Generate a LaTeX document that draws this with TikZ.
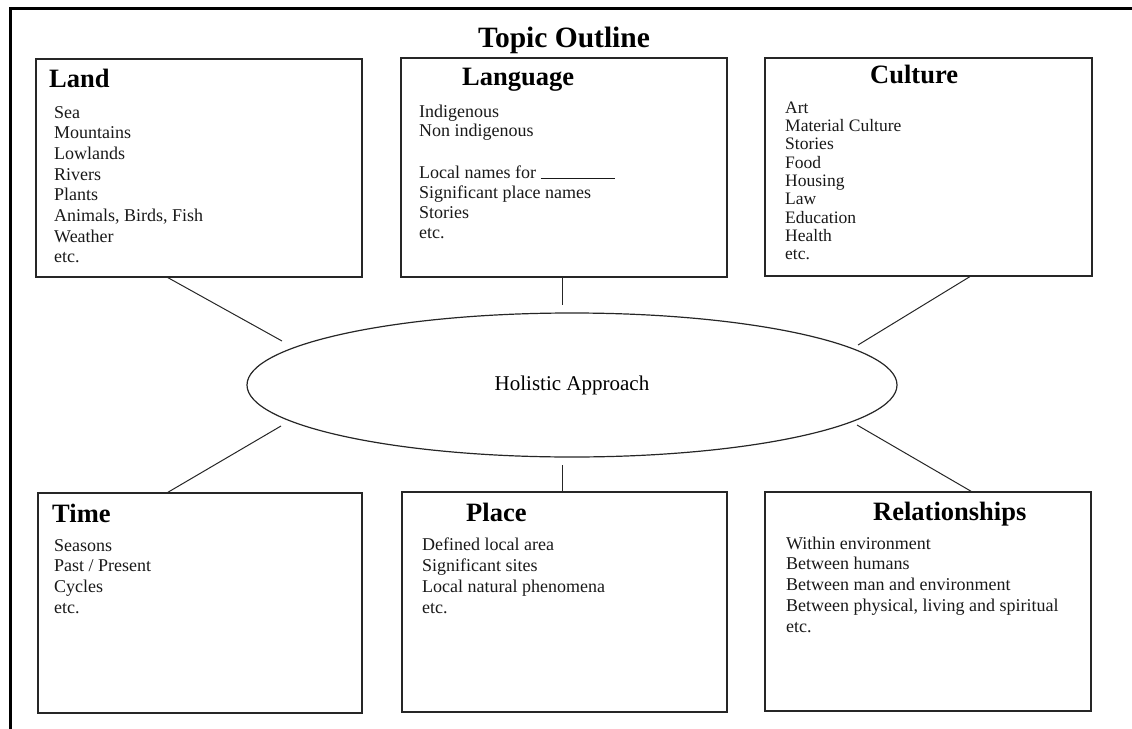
\documentclass[tikz,border=0pt]{standalone}
\usepackage{fontspec}
\setmainfont{Liberation Serif}
\usetikzlibrary{shapes.geometric,calc}
\begin{document}
\begin{tikzpicture}[x=1pt,y=-1pt,
  topicbox/.style={draw=black!85,line width=1.3pt,minimum width=#1,inner sep=0pt},
  hdr/.style={font=\fontsize{26.5}{30}\selectfont\bfseries,anchor=base west,inner sep=0pt},
  item/.style={font=\fontsize{18}{20}\selectfont,anchor=base west,inner sep=0pt,text=black!90},
  citem/.style={font=\fontsize{17.5}{19}\selectfont,anchor=base west,inner sep=0pt,text=black!90},
  link/.style={line width=1pt,black!85},
  frame/.style={line width=3pt,black}]
\useasboundingbox (0,0) rectangle (1132,728);
% outer frame
\draw[frame] (10,740) -- (10,8) -- (1140,8);
% title
\node[font=\fontsize{29.5}{32}\selectfont\bfseries,anchor=base,inner sep=0pt] (title) at (564,47) {Topic Outline};
% boxes
\node[topicbox=326pt,minimum height=218pt] (land) at (199,168) {};
\node[topicbox=326pt,minimum height=219pt] (lang) at (564,167.5) {};
\node[topicbox=327pt,minimum height=218pt] (cult) at (928.5,167) {};
\node[topicbox=324pt,minimum height=220pt] (time) at (200,603) {};
\node[topicbox=325pt,minimum height=220pt] (place) at (564.5,602) {};
\node[topicbox=326pt,minimum height=219pt] (rel) at (928,601.5) {};
% ellipse
\node[draw=black!85,line width=1.2pt,ellipse,minimum width=650pt,minimum height=144pt,inner sep=0pt,
      font=\fontsize{21}{23}\selectfont] (hol) at (572,385) {Holistic Approach};
% headers
\node[hdr] (landh) at (49,87) {Land};
\node[hdr] (langh) at (462,85) {Language};
\node[hdr] (culth) at (870,83) {Culture};
\node[hdr] (timeh) at (52,522) {Time};
\node[hdr] (placeh) at (466,521) {Place};
\node[hdr] (relh) at (873,520) {Relationships};
% body items
\foreach \t [count=\i] in {Sea,Mountains,Lowlands,Rivers,Plants,{Animals, Birds, Fish},Weather,etc.}
  \node[item] (land\i) at (54,{118+(\i-1)*20.7}) {\t};
\foreach \t/\yy [count=\i] in {Indigenous/117,Non indigenous/136.5,Local names for \rule[-1pt]{74pt}{0.8pt}/178,Significant place names/198,Stories/218,etc./238}
  \node[item] (lang\i) at (419,\yy) {\t};
\foreach \t [count=\i] in {Art,Material Culture,Stories,Food,Housing,Law,Education,Health,etc.}
  \node[citem] (cult\i) at (785,{113+(\i-1)*18.35}) {\t};
\foreach \t [count=\i] in {Seasons,Past / Present,Cycles,etc.}
  \node[item] (time\i) at (54,{551+(\i-1)*20.7}) {\t};
\foreach \t [count=\i] in {Defined local area,Significant sites,Local natural phenomena,etc.}
  \node[item] (place\i) at (422,{550+(\i-1)*21}) {\t};
\foreach \t [count=\i] in {Within environment,Between humans,Between man and environment,{Between physical, living and spiritual},etc.}
  \node[item] (rel\i) at (786,{549+(\i-1)*20.8}) {\t};
% connector free ends near the ellipse
\coordinate (eLand) at (282,341);
\coordinate (eLang) at (562,305);
\coordinate (eCult) at (858,345);
\coordinate (eTime) at (281,426);
\coordinate (ePlace) at (562,465);
\coordinate (eRel) at (857,425);
% connectors
\draw[link] ($(land.south west)!0.405!(land.south east)$) -- (eLand);
\draw[link] (lang.south -| eLang) -- (eLang);
\draw[link] ($(cult.south west)!0.626!(cult.south east)$) -- (eCult);
\draw[link] ($(time.north west)!0.401!(time.north east)$) -- (eTime);
\draw[link] (place.north -| ePlace) -- (ePlace);
\draw[link] ($(rel.north west)!0.632!(rel.north east)$) -- (eRel);
\end{tikzpicture}
\end{document}
